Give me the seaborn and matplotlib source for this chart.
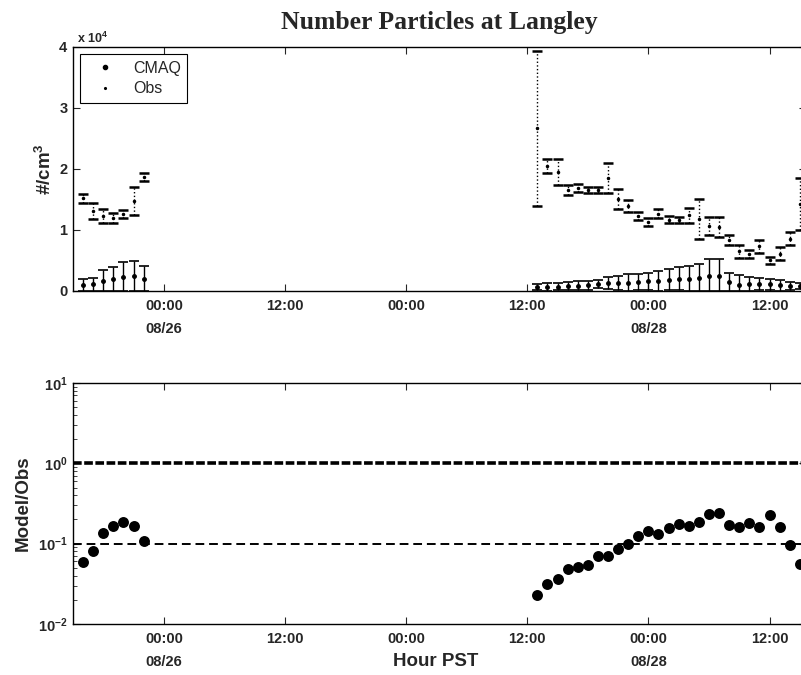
import numpy as np
import pandas as pd
import matplotlib
matplotlib.use("Agg")
import matplotlib.pyplot as plt
from matplotlib.lines import Line2D
from matplotlib.ticker import LogLocator, NullFormatter
import seaborn as sns

# ---- hourly data, Langley site (number concentration, #/cm3) ----
times_a = pd.date_range("2001-08-25 16:00", periods=7, freq="h")
times_b = pd.date_range("2001-08-27 13:00", periods=27, freq="h")

obs_a = [15200, 13100, 12300, 12000, 12600, 14700, 18700]
obs_a_err = [700, 1300, 1150, 800, 600, 2300, 600]
cmaq_a = [910, 1070, 1680, 2000, 2370, 2470, 2040]
cmaq_a_err = [1100, 1100, 1700, 2000, 2400, 2500, 2000]

obs_b = [26700, 20500, 19500, 16600, 16900, 16600, 16500, 18500, 15100, 13900,
         12300, 11300, 12700, 11700, 11700, 12400, 11800, 10700, 10500, 8400,
         6500, 6100, 7300, 5000, 6100, 8600, 14300]
obs_b_err = [12700, 1100, 2100, 800, 600, 500, 500, 2400, 1600, 1000,
             600, 700, 700, 600, 500, 1200, 3300, 1500, 1600, 800,
             1100, 700, 1100, 600, 1100, 1100, 4300]
cmaq_b = [610, 650, 710, 810, 870, 910, 1160, 1300, 1310, 1360,
          1510, 1610, 1680, 1850, 2040, 2040, 2180, 2480, 2510, 1420,
          1040, 1110, 1170, 1130, 980, 820, 800]
cmaq_b_err = [500, 650, 600, 700, 700, 700, 650, 1000, 1200, 1400,
              1300, 1400, 1600, 1750, 1900, 2100, 2200, 2700, 2700, 1500,
              1500, 1200, 1000, 900, 900, 700, 500]

tick_times = ["2001-08-26 00:00", "2001-08-26 12:00", "2001-08-27 00:00",
              "2001-08-27 12:00", "2001-08-28 00:00", "2001-08-28 12:00"]
tick_labels = ["00:00\n08/26", "12:00", "00:00", "12:00", "00:00\n08/28", "12:00"]
x_start, x_end = "2001-08-25 15:00", "2001-08-28 15:36"

df = pd.DataFrame({
    "time": list(times_a) + list(times_b),
    "obs": obs_a + obs_b,
    "obs_err": obs_a_err + obs_b_err,
    "cmaq": cmaq_a + cmaq_b,
    "cmaq_err": cmaq_a_err + cmaq_b_err,
})
df["ratio"] = df["cmaq"] / df["obs"]

sns.set_style("ticks")
plt.rcParams["font.family"] = ["Liberation Sans", "DejaVu Sans"]
plt.rcParams["font.weight"] = "bold"
plt.rcParams["mathtext.default"] = "regular"

fig = plt.figure(figsize=(8.01, 6.75), dpi=100)
ax1 = fig.add_axes([0.0911, 0.5689, 0.915, 0.3615])
ax2 = fig.add_axes([0.0911, 0.0756, 0.915, 0.357])

# ---- top: concentrations with error bars ----
for seg in (slice(0, 7), slice(7, None)):
    sub = df.iloc[seg]
    e = ax1.errorbar(sub["time"], sub["obs"], yerr=sub["obs_err"], fmt=".",
                     ms=3, color="black", ecolor="black", elinewidth=1,
                     capsize=3.8, capthick=1.8)
    e[2][0].set_linestyle(":")
    low = np.minimum(sub["cmaq_err"], sub["cmaq"])
    ax1.errorbar(sub["time"], sub["cmaq"], yerr=[low, sub["cmaq_err"]],
                 fmt="o", ms=2.5, color="black", ecolor="black",
                 elinewidth=1, capsize=3.8, capthick=1.2)

ax1.set_ylim(0, 40000)
ax1.set_yticks([0, 10000, 20000, 30000, 40000])
ax1.set_yticklabels(["0", "1", "2", "3", "4"])
ax1.set_ylabel("#/cm$^3$", fontsize=13.5, fontweight="bold", labelpad=3)
ax1.text(0.005, 1.004, "x 10$^4$", transform=ax1.transAxes, fontsize=9,
         ha="left", va="bottom", fontweight="bold")

leg_handles = [
    Line2D([], [], marker="o", ms=3, color="black", ls="none"),
    Line2D([], [], marker=".", ms=2.5, color="black", ls="none"),
]
leg = ax1.legend(leg_handles, ["CMAQ", "Obs"], loc="upper left",
                 fontsize=11.5, frameon=True, fancybox=False, framealpha=1,
                 edgecolor="black", handlelength=2.3, handletextpad=0.6,
                 borderaxespad=0.45, borderpad=0.4, labelspacing=0.35)
leg.get_frame().set_linewidth(0.8)
for t in leg.get_texts():
    t.set_fontweight("normal")

# ---- bottom: model / obs ratio ----
sns.scatterplot(data=df, x="time", y="ratio", ax=ax2, color="black",
                s=62, linewidth=0, legend=False, zorder=3)
ax2.set_yscale("log")
ax2.set_ylim(1e-2, 1e1)
ax2.axhline(1.0, color="black", lw=2.6, ls=(0, (2.4, 0.7)), zorder=2)
ax2.axhline(0.1, color="black", lw=1.4, ls=(0, (4.5, 2.5)), zorder=2)
ax2.set_yticks([1e-2, 1e-1, 1e0, 1e1])
ax2.set_yticklabels(["10$^{-2}$", "10$^{-1}$", "10$^{0}$", "10$^{1}$"])
ax2.yaxis.set_minor_locator(LogLocator(base=10, subs=np.arange(2, 10)))
ax2.yaxis.set_minor_formatter(NullFormatter())
ax2.set_ylabel("Model/Obs", fontsize=13.5, fontweight="bold", labelpad=4)
ax2.set_xlabel("")

for ax in (ax1, ax2):
    ax.set_xlim(pd.Timestamp(x_start), pd.Timestamp(x_end))
    ax.set_xticks(pd.to_datetime(tick_times))
    ax.set_xticklabels(tick_labels, linespacing=1.8)
    ax.tick_params(axis="both", which="major", direction="in", length=5,
                   width=0.8, top=True, right=True, labelsize=10.5)
    ax.tick_params(axis="x", which="major", pad=6)
    ax.tick_params(axis="y", which="major", pad=4)
    ax.tick_params(axis="y", which="minor", direction="in", length=3,
                   width=0.6, right=True)
    for lab in ax.get_xticklabels() + ax.get_yticklabels():
        lab.set_fontweight("bold")
    for sp in ax.spines.values():
        sp.set_linewidth(1.0)
        sp.set_color("black")
    ax.grid(False)

fig.text(439 / 801, 1 - 22 / 675, "Number Particles at Langley",
         family=["Liberation Serif", "DejaVu Serif"], fontsize=18.5,
         fontweight="bold", ha="center", va="center")
fig.text(436 / 801, 1 - 662 / 675, "Hour PST", fontsize=13.5,
         fontweight="bold", ha="center", va="center")

fig.savefig("out.png", dpi=100, facecolor="white")
